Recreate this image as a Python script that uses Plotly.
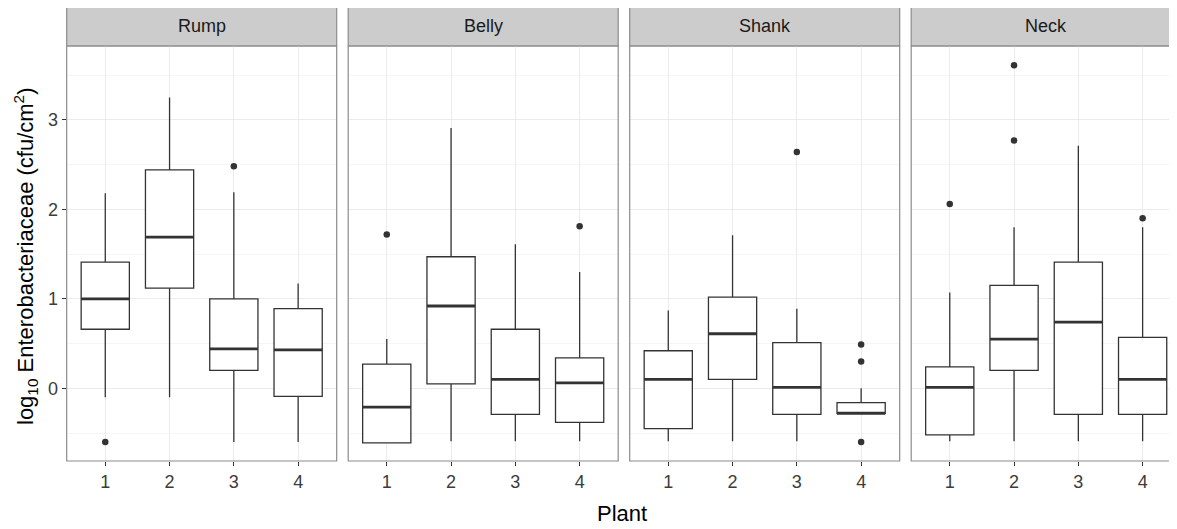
import plotly.graph_objects as go

plants = [1, 2, 3, 4]
sites = ["Rump", "Belly", "Shank", "Neck"]

q1 = {
    "Rump": [0.66, 1.12, 0.20, -0.09],
    "Belly": [-0.61, 0.05, -0.29, -0.38],
    "Shank": [-0.45, 0.10, -0.29, -0.28],
    "Neck": [-0.52, 0.20, -0.29, -0.29],
}
median = {
    "Rump": [1.00, 1.69, 0.44, 0.43],
    "Belly": [-0.21, 0.92, 0.10, 0.06],
    "Shank": [0.10, 0.61, 0.01, -0.28],
    "Neck": [0.01, 0.55, 0.74, 0.10],
}
q3 = {
    "Rump": [1.41, 2.44, 1.00, 0.89],
    "Belly": [0.27, 1.47, 0.66, 0.34],
    "Shank": [0.42, 1.02, 0.51, -0.16],
    "Neck": [0.24, 1.15, 1.41, 0.57],
}
lower = {
    "Rump": [-0.10, -0.10, -0.60, -0.60],
    "Belly": [-0.61, -0.59, -0.59, -0.59],
    "Shank": [-0.59, -0.59, -0.59, -0.28],
    "Neck": [-0.59, -0.59, -0.59, -0.59],
}
upper = {
    "Rump": [2.18, 3.25, 2.19, 1.17],
    "Belly": [0.55, 2.91, 1.61, 1.30],
    "Shank": [0.87, 1.71, 0.89, 0.00],
    "Neck": [1.07, 1.80, 2.71, 1.80],
}
out_plant = {
    "Rump": [1, 3],
    "Belly": [1, 4],
    "Shank": [3, 4, 4, 4],
    "Neck": [1, 2, 2, 4],
}
out_value = {
    "Rump": [-0.60, 2.48],
    "Belly": [1.72, 1.81],
    "Shank": [2.64, 0.49, 0.30, -0.60],
    "Neck": [2.06, 3.61, 2.77, 1.90],
}

PAGE_W, PAGE_H = 1177, 529
OFF = 8  # default body margin of the page
W, H = PAGE_W - OFF, PAGE_H - OFF
BOX_W = 0.75
DARK = "#333333"
TICK_C = "#3C3C3C"
FONT = "Liberation Sans, Arial, sans-serif"


def px(xp):
    return (xp - OFF) / W


def py(yp):
    return (H - (yp - OFF)) / H


# layout in page pixels
panel_left = [66.7, 348.2, 629.7, 911.2]
panel_w = 270.0
px_per_unit = panel_w / 4.2
top_px, bot_px = 46.0, 461.0
strip_top_px = 7.0
y_range = [-0.812, 3.825]

fig = go.Figure()
layout = {}
shapes = []
annotations = []

for i, site in enumerate(sites):
    xa = "x" if i == 0 else f"x{i+1}"
    ya = "y" if i == 0 else f"y{i+1}"
    fig.add_trace(go.Box(
        x=plants, q1=q1[site], median=median[site], q3=q3[site],
        lowerfence=lower[site], upperfence=upper[site],
        width=BOX_W, whiskerwidth=0, boxpoints=False, fillcolor="white",
        line=dict(color=DARK, width=1.3), xaxis=xa, yaxis=ya,
        showlegend=False, hoverinfo="skip",
    ))
    mx, my = [], []
    for p, m in zip(plants, median[site]):
        mx += [p - BOX_W / 2, p + BOX_W / 2, None]
        my += [m, m, None]
    fig.add_trace(go.Scatter(
        x=mx, y=my, mode="lines", line=dict(color=DARK, width=2.8),
        xaxis=xa, yaxis=ya, showlegend=False, hoverinfo="skip",
    ))
    fig.add_trace(go.Scatter(
        x=out_plant[site], y=out_value[site], mode="markers",
        marker=dict(color=DARK, size=6.5), xaxis=xa, yaxis=ya,
        showlegend=False, hoverinfo="skip",
    ))

    left = panel_left[i]
    right = left + panel_w
    x_hi = 4.6
    if right > PAGE_W:
        x_hi = 4.6 - (right - PAGE_W) / px_per_unit
        dom_r = 1.0
    else:
        dom_r = px(right)
    dom = [px(left), dom_r]
    xkey = "xaxis" if i == 0 else f"xaxis{i+1}"
    ykey = "yaxis" if i == 0 else f"yaxis{i+1}"
    layout[xkey] = dict(
        domain=dom, range=[0.4, x_hi], anchor=ya,
        tickmode="array", tickvals=plants, ticktext=[str(p) for p in plants],
        ticks="outside", ticklen=4, tickcolor=DARK, tickwidth=1.2,
        tickfont=dict(family=FONT, size=18, color=TICK_C),
        showgrid=True, gridcolor="#EBEBEB", gridwidth=1.2,
        zeroline=False, showline=False, fixedrange=True,
    )
    ydict = dict(
        domain=[py(bot_px), py(top_px)], range=y_range,
        anchor=xa, tickmode="array", tickvals=[0, 1, 2, 3],
        showgrid=True, gridcolor="#EBEBEB", gridwidth=1.2,
        minor=dict(tickmode="array", tickvals=[-0.5, 0.5, 1.5, 2.5, 3.5],
                   showgrid=True, gridcolor="#F5F5F5", gridwidth=1),
        zeroline=False, showline=False, fixedrange=True,
    )
    if i == 0:
        ydict.update(
            ticktext=["0", "1", "2", "3"], ticks="outside", ticklen=4,
            tickcolor=DARK, tickwidth=1.2,
            tickfont=dict(family=FONT, size=18, color=TICK_C),
        )
    else:
        ydict.update(showticklabels=False, ticks="")
    layout[ykey] = ydict
    # panel border
    shapes.append(dict(
        type="rect", xref="paper", yref="paper",
        x0=px(left), x1=px(right), y0=py(bot_px), y1=py(top_px),
        line=dict(color="#8C8C8C", width=1.2), fillcolor="rgba(0,0,0,0)",
        layer="above",
    ))
    # strip
    shapes.append(dict(
        type="rect", xref="paper", yref="paper",
        x0=px(left), x1=px(right), y0=py(top_px), y1=py(strip_top_px),
        line=dict(color="#8C8C8C", width=1.2), fillcolor="#CCCCCC",
        layer="below",
    ))
    annotations.append(dict(
        text=site, xref="paper", yref="paper",
        x=px(left + panel_w / 2), y=py((strip_top_px + top_px) / 2),
        showarrow=False, xanchor="center", yanchor="middle",
        font=dict(family=FONT, size=18, color="#1A1A1A"),
    ))

annotations.append(dict(
    text="Plant", xref="paper", yref="paper",
    x=px(622), y=py(513), showarrow=False, xanchor="center", yanchor="middle",
    font=dict(family=FONT, size=22, color="#000000"),
))
annotations.append(dict(
    text="log<sub>10</sub> Enterobacteriaceae (cfu/cm<sup>2</sup>)",
    xref="paper", yref="paper", x=px(25), y=py(256),
    textangle=-90, showarrow=False, xanchor="center", yanchor="middle",
    font=dict(family=FONT, size=22, color="#000000"),
))

fig.update_layout(
    width=W, height=H, margin=dict(l=0, r=0, t=0, b=0),
    paper_bgcolor="white", plot_bgcolor="white",
    boxmode="overlay", shapes=shapes, annotations=annotations,
    **layout,
)

fig.write_html("out.html")
